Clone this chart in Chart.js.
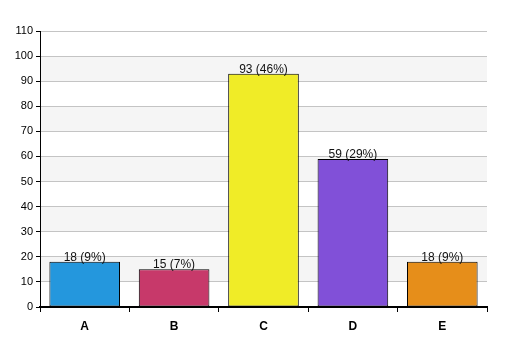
<!DOCTYPE html>
<html><head><meta charset="utf-8">
<script src="https://cdn.jsdelivr.net/npm/chart.js@4/dist/chart.umd.min.js"></script>
<style>html,body{margin:0;padding:0;background:#fff;}#wrap{width:507px;height:356px;}</style>
</head><body><div id="wrap"><canvas id="c" width="507" height="356"></canvas></div>
<script>
const categories = ["A", "B", "C", "D", "E"];
const values = [18, 15, 93, 59, 18];
const percents = ["9%", "7%", "46%", "29%", "9%"];
const barColors = ["#2497DD", "#C7396A", "#F0EC27", "#8150D8", "#E68E1A"];
const yMin = 0, yMax = 110, yStep = 10;

const bandPlugin = {
  id: 'bands',
  beforeDraw(chart) {
    const {ctx, chartArea, scales} = chart;
    const y = scales.y;
    ctx.save();
    ctx.fillStyle = '#f5f5f5';
    for (let v = 10; v < yMax; v += 20) {
      const top = y.getPixelForValue(v + 10), bot = y.getPixelForValue(v);
      ctx.fillRect(chartArea.left, top, chartArea.right - chartArea.left, bot - top);
    }
    ctx.restore();
  }
};
const labelPlugin = {
  id: 'vlabels',
  afterDatasetsDraw(chart) {
    const {ctx} = chart;
    const meta = chart.getDatasetMeta(0);
    ctx.save();
    ctx.font = '12px "Liberation Sans", Arial, sans-serif';
    ctx.fillStyle = '#111';
    ctx.textAlign = 'center';
    ctx.textBaseline = 'alphabetic';
    meta.data.forEach((bar, i) => {
      ctx.fillText(values[i] + ' (' + percents[i] + ')', bar.x, bar.y - 1);
    });
    ctx.restore();
  }
};

new Chart(document.getElementById('c'), {
  type: 'bar',
  data: {
    labels: categories,
    datasets: [{
      data: values,
      backgroundColor: barColors,
      borderColor: '#000',
      borderWidth: 1,
      borderSkipped: false,
      barPercentage: 0.79,
      categoryPercentage: 1
    }]
  },
  options: {
    responsive: false,
    animation: false,
    devicePixelRatio: 1,
    layout: {padding: {left: 0, right: 20, top: 31, bottom: 0}},
    plugins: {legend: {display: false}, tooltip: {enabled: false}},
    scales: {
      x: {
        grid: {display: true, drawOnChartArea: false, drawTicks: true, tickLength: 5, color: '#000', offset: true},
        border: {display: true, color: '#000', width: 2},
        ticks: {color: '#000', font: {family: '"Liberation Sans", Arial, sans-serif', size: 12, weight: 'bold'}, padding: 7},
        afterFit(s) { s.height = 49; }
      },
      y: {
        min: yMin, max: yMax,
        grid: {color: '#c4c4c4', tickColor: '#000', tickLength: 4, drawTicks: true},
        border: {display: true, color: '#000', width: 1},
        ticks: {stepSize: yStep, color: '#000', padding: 3, font: {family: '"Liberation Sans", Arial, sans-serif', size: 11}},
        afterFit(s) { s.width = 40; }
      }
    }
  },
  plugins: [bandPlugin, labelPlugin]
});
</script></body></html>
